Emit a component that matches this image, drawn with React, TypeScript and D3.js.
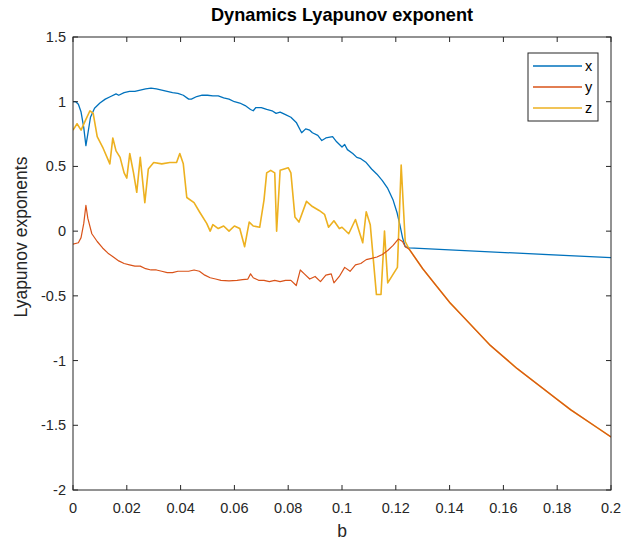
import React from "react";
import * as d3 from "d3";

const xTicks = [0, 0.02, 0.04, 0.06, 0.08, 0.1, 0.12, 0.14, 0.16, 0.18, 0.2];
const yTicks = [-2, -1.5, -1, -0.5, 0, 0.5, 1, 1.5];
const seriesNames = ["x", "y", "z"];
const seriesColors = ["#0072BD", "#D95319", "#EDB120"];

// shared branch after the bifurcation (y and z coincide)
const tailB = [0.125, 0.13, 0.135, 0.14, 0.145, 0.15, 0.155, 0.16, 0.165, 0.17, 0.175, 0.18, 0.185, 0.19, 0.195, 0.2];
const tailV = [-0.14, -0.29, -0.42, -0.55, -0.66, -0.77, -0.88, -0.97, -1.06, -1.14, -1.22, -1.3, -1.38, -1.45, -1.52, -1.59];

const xSeries: [number, number][] = [
  [0, 1.0], [0.001, 1.0], [0.002, 0.98], [0.003, 0.92], [0.004, 0.8], [0.0048, 0.66], [0.0055, 0.75],
  [0.0065, 0.88], [0.008, 0.95], [0.01, 0.99], [0.012, 1.02], [0.014, 1.04], [0.016, 1.06], [0.017, 1.05],
  [0.019, 1.07], [0.021, 1.08], [0.023, 1.08], [0.025, 1.09], [0.027, 1.1], [0.029, 1.105], [0.031, 1.1],
  [0.033, 1.09], [0.035, 1.08], [0.037, 1.07], [0.039, 1.065], [0.041, 1.05], [0.043, 1.02], [0.044, 1.02],
  [0.046, 1.04], [0.048, 1.05], [0.05, 1.05], [0.052, 1.045], [0.054, 1.045], [0.056, 1.03], [0.058, 1.02],
  [0.06, 1.0], [0.062, 0.99], [0.064, 0.97], [0.066, 0.94], [0.067, 0.93], [0.068, 0.955], [0.07, 0.955],
  [0.072, 0.94], [0.074, 0.93], [0.0755, 0.91], [0.077, 0.92], [0.079, 0.9], [0.081, 0.88], [0.083, 0.84],
  [0.085, 0.76], [0.0865, 0.79], [0.088, 0.78], [0.089, 0.76], [0.091, 0.74], [0.0925, 0.7], [0.094, 0.72],
  [0.0965, 0.73], [0.098, 0.69], [0.1, 0.65], [0.101, 0.67], [0.102, 0.63], [0.104, 0.6], [0.1055, 0.57],
  [0.107, 0.56], [0.109, 0.53], [0.111, 0.48], [0.113, 0.44], [0.115, 0.39], [0.117, 0.33], [0.119, 0.24],
  [0.1205, 0.14], [0.1215, 0.05], [0.1225, -0.05], [0.1235, -0.12], [0.125, -0.13], [0.2, -0.205],
];

const ySeriesHead: [number, number][] = [
  [0, -0.1], [0.002, -0.09], [0.003, -0.05], [0.004, 0.06], [0.0048, 0.2], [0.0055, 0.1], [0.007, -0.02],
  [0.009, -0.08], [0.011, -0.13], [0.013, -0.17], [0.015, -0.2], [0.017, -0.23], [0.019, -0.25],
  [0.021, -0.26], [0.023, -0.27], [0.025, -0.27], [0.027, -0.29], [0.029, -0.3], [0.031, -0.3],
  [0.033, -0.31], [0.035, -0.32], [0.037, -0.32], [0.039, -0.31], [0.041, -0.31], [0.043, -0.31],
  [0.045, -0.3], [0.047, -0.31], [0.049, -0.34], [0.051, -0.36], [0.053, -0.37], [0.055, -0.38],
  [0.058, -0.385], [0.061, -0.38], [0.063, -0.375], [0.065, -0.37], [0.066, -0.33], [0.067, -0.36],
  [0.069, -0.38], [0.071, -0.38], [0.073, -0.39], [0.075, -0.38], [0.077, -0.39], [0.079, -0.38],
  [0.081, -0.38], [0.083, -0.42], [0.0845, -0.3], [0.086, -0.33], [0.088, -0.37], [0.09, -0.35],
  [0.092, -0.39], [0.094, -0.34], [0.096, -0.33], [0.097, -0.4], [0.099, -0.35], [0.101, -0.28],
  [0.103, -0.31], [0.105, -0.26], [0.107, -0.25], [0.109, -0.22], [0.111, -0.21], [0.113, -0.2],
  [0.115, -0.18], [0.117, -0.15], [0.119, -0.11], [0.121, -0.06], [0.1225, -0.08], [0.1235, -0.12],
];

const zSeriesHead: [number, number][] = [
  [0, 0.78], [0.0015, 0.83], [0.003, 0.78], [0.0045, 0.85], [0.0063, 0.93], [0.0075, 0.91], [0.009, 0.73],
  [0.011, 0.65], [0.0137, 0.52], [0.0148, 0.72], [0.016, 0.62], [0.0175, 0.57], [0.019, 0.45], [0.02, 0.41],
  [0.0211, 0.6], [0.0225, 0.45], [0.0237, 0.3], [0.025, 0.57], [0.0267, 0.22], [0.028, 0.48], [0.03, 0.53],
  [0.033, 0.52], [0.036, 0.53], [0.0385, 0.53], [0.0397, 0.6], [0.041, 0.52], [0.0423, 0.26], [0.045, 0.22],
  [0.047, 0.15], [0.0497, 0.06], [0.051, 0.0], [0.052, 0.05], [0.054, 0.02], [0.056, 0.04], [0.058, 0.0],
  [0.06, 0.04], [0.062, 0.02], [0.0638, -0.12], [0.0655, 0.07], [0.067, 0.04], [0.0694, 0.03], [0.071, 0.24],
  [0.072, 0.45], [0.0735, 0.47], [0.075, 0.45], [0.0757, 0.0], [0.077, 0.47], [0.08, 0.49], [0.081, 0.45],
  [0.0825, 0.11], [0.084, 0.07], [0.0868, 0.23], [0.089, 0.19], [0.0915, 0.16], [0.0935, 0.13], [0.095, 0.03],
  [0.097, 0.08], [0.099, 0.02], [0.1, 0.03], [0.1025, -0.02], [0.105, 0.09], [0.1077, -0.09], [0.109, 0.15],
  [0.1105, 0.05], [0.1128, -0.49], [0.1145, -0.49], [0.1158, 0.0], [0.117, -0.4], [0.1206, -0.28],
  [0.122, 0.51], [0.1235, -0.08],
];

const W = 625;
const H = 546;
const M = { left: 73, right: 611, top: 37, bottom: 490 };
const FONT = "'Liberation Sans', Arial, Helvetica, sans-serif";
const INK = "#262626";

export default function App() {
  const xs = d3.scaleLinear().domain([0, 0.2]).range([M.left, M.right]);
  const ys = d3.scaleLinear().domain([-2, 1.5]).range([M.bottom, M.top]);
  const tail: [number, number][] = tailB.map((b, i) => [b, tailV[i]]);
  const data: [number, number][][] = [xSeries, ySeriesHead.concat(tail), zSeriesHead.concat(tail)];
  const line = d3
    .line<[number, number]>()
    .x((d) => xs(d[0]))
    .y((d) => ys(d[1]));
  const order = [0, 2, 1];
  const widths = [1.3, 1.2, 1.6];
  const tickLen = 5;
  const legend = { x: 528, y: 53, w: 70, h: 68 };
  return (
    <svg width={W} height={H} style={{ position: "absolute", left: 0, top: 0, background: "#fff" }}>
      <rect x={0} y={0} width={W} height={H} fill="#fff" />
      <defs>
        <clipPath id="plotclip">
          <rect x={M.left} y={M.top} width={M.right - M.left} height={M.bottom - M.top} />
        </clipPath>
      </defs>
      <g clipPath="url(#plotclip)">
        {order.map((i) => (
          <path key={i} d={line(data[i]) || ""} fill="none" stroke={seriesColors[i]} strokeWidth={widths[i]} strokeLinejoin="round" />
        ))}
      </g>
      <rect x={M.left} y={M.top} width={M.right - M.left} height={M.bottom - M.top} fill="none" stroke={INK} strokeWidth={1} />
      {xTicks.map((t) => (
        <g key={"xt" + t}>
          <line x1={xs(t)} x2={xs(t)} y1={M.bottom} y2={M.bottom - tickLen} stroke={INK} />
          <line x1={xs(t)} x2={xs(t)} y1={M.top} y2={M.top + tickLen} stroke={INK} />
          <text x={xs(t)} y={M.bottom + 23} textAnchor="middle" fontFamily={FONT} fontSize={14.5} fill={INK}>
            {String(t)}
          </text>
        </g>
      ))}
      {yTicks.map((t) => (
        <g key={"yt" + t}>
          <line x1={M.left} x2={M.left + tickLen} y1={ys(t)} y2={ys(t)} stroke={INK} />
          <line x1={M.right} x2={M.right - tickLen} y1={ys(t)} y2={ys(t)} stroke={INK} />
          <text x={M.left - 7} y={ys(t) + 5} textAnchor="end" fontFamily={FONT} fontSize={14.5} fill={INK}>
            {String(t)}
          </text>
        </g>
      ))}
      <text x={(M.left + M.right) / 2} y={21} textAnchor="middle" fontFamily={FONT} fontSize={18.2} fontWeight="bold" fill="#000">
        Dynamics Lyapunov exponent
      </text>
      <text x={(M.left + M.right) / 2} y={537} textAnchor="middle" fontFamily={FONT} fontSize={17.5} fill={INK}>
        b
      </text>
      <text
        transform={`translate(27,237) rotate(-90)`}
        textAnchor="middle"
        fontFamily={FONT}
        fontSize={17.5}
        fill={INK}
      >
        Lyapunov exponents
      </text>
      <g>
        <rect x={legend.x} y={legend.y} width={legend.w} height={legend.h} fill="#fff" stroke={INK} strokeWidth={1} />
        {seriesNames.map((n, i) => (
          <g key={n}>
            <line x1={legend.x + 5} x2={legend.x + 54} y1={legend.y + 13 + i * 21} y2={legend.y + 13 + i * 21} stroke={seriesColors[i]} strokeWidth={1.3} />
            <text x={legend.x + 57} y={legend.y + 18 + i * 21} fontFamily={FONT} fontSize={14.5} fill="#000">
              {n}
            </text>
          </g>
        ))}
      </g>
    </svg>
  );
}
